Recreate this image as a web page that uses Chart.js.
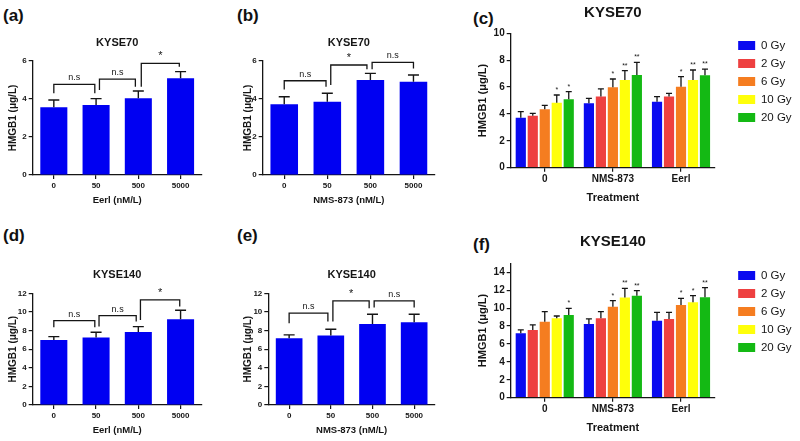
<!DOCTYPE html>
<html>
<head>
<meta charset="utf-8">
<script src="https://cdn.jsdelivr.net/npm/chart.js@4.4.0/dist/chart.umd.min.js"></script>
<style>
  html, body { margin: 0; padding: 0; background: #fff; }
  #fig { position: relative; width: 800px; height: 441px; overflow: hidden; font-family: 'Liberation Sans', Arial, sans-serif; }
  .panel { position: absolute; }
  .tag { position: absolute; font-weight: bold; font-size: 17px; line-height: 17px; color: #111; }
</style>
</head>
<body>
<div id="fig">
  <div class="tag" style="left:3px;top:7px">(a)</div>
  <div class="tag" style="left:237px;top:7px">(b)</div>
  <div class="tag" style="left:473px;top:10px">(c)</div>
  <div class="tag" style="left:3px;top:227px">(d)</div>
  <div class="tag" style="left:237px;top:227px">(e)</div>
  <div class="tag" style="left:473px;top:236px">(f)</div>

  <div class="panel" style="left:0;top:25px;width:215px;height:190px"><canvas id="chart-a"></canvas></div>
  <div class="panel" style="left:225px;top:25px;width:220px;height:190px"><canvas id="chart-b"></canvas></div>
  <div class="panel" style="left:460px;top:0;width:340px;height:215px"><canvas id="chart-c"></canvas></div>
  <div class="panel" style="left:0;top:255px;width:215px;height:190px"><canvas id="chart-d"></canvas></div>
  <div class="panel" style="left:225px;top:255px;width:220px;height:190px"><canvas id="chart-e"></canvas></div>
  <div class="panel" style="left:460px;top:225px;width:340px;height:215px"><canvas id="chart-f"></canvas></div>
</div>
<script>
'use strict';

// categories
const doses = ['0', '50', '500', '5000'];
const treatments = ['0', 'NMS-873', 'Eerl'];
const gyLabels = ['0 Gy', '2 Gy', '6 Gy', '10 Gy', '20 Gy'];

// (a) KYSE70 + Eerl
const k70Eerl = [3.56, 3.68, 4.04, 5.09];
const k70EerlErr = [0.39, 0.34, 0.38, 0.35];
// (b) KYSE70 + NMS-873
const k70Nms = [3.72, 3.86, 5.0, 4.91];
const k70NmsErr = [0.40, 0.44, 0.35, 0.35];
// (d) KYSE140 + Eerl
const k140Eerl = [6.99, 7.24, 7.85, 9.21];
const k140EerlErr = [0.36, 0.57, 0.57, 0.97];
// (e) KYSE140 + NMS-873
const k140Nms = [7.17, 7.46, 8.71, 8.89];
const k140NmsErr = [0.36, 0.68, 1.04, 0.86];

// (c) KYSE70, one array per dose, values by treatment
const k70Gy0 = [3.72, 4.79, 4.91];
const k70Gy2 = [3.87, 5.29, 5.29];
const k70Gy6 = [4.34, 5.98, 6.03];
const k70Gy10 = [4.84, 6.53, 6.53];
const k70Gy20 = [5.09, 6.90, 6.87];
const k70Gy0Err = [0.45, 0.37, 0.38];
const k70Gy2Err = [0.17, 0.57, 0.24];
const k70Gy6Err = [0.30, 0.62, 0.74];
const k70Gy10Err = [0.57, 0.69, 0.74];
const k70Gy20Err = [0.57, 0.94, 0.47];
const k70Stars = [['', '', ''], ['', '', ''], ['', '*', '*'], ['*', '**', '**'], ['*', '**', '**']];

// (f) KYSE140
const k140Gy0 = [7.19, 8.23, 8.60];
const k140Gy2 = [7.56, 8.86, 8.79];
const k140Gy6 = [8.49, 10.16, 10.35];
const k140Gy10 = [8.86, 11.17, 10.65];
const k140Gy20 = [9.23, 11.39, 11.21];
const k140Gy0Err = [0.37, 0.56, 0.93];
const k140Gy2Err = [0.56, 0.75, 0.74];
const k140Gy6Err = [1.12, 0.67, 0.74];
const k140Gy10Err = [0.26, 1.04, 0.74];
const k140Gy20Err = [0.75, 0.56, 1.08];
const k140Stars = [['', '', ''], ['', '', ''], ['', '*', '*'], ['', '**', '*'], ['*', '**', '**']];

// significance brackets: [from, to, line value, left end, right end, label]
const bracketsA = [[0, 0.97, 4.77, 4.3, 4.3, 'n.s'], [1.08, 1.93, 5.05, 4.47, 4.65, 'n.s'], [2.07, 2.97, 5.88, 4.65, 5.7, '*']];
const bracketsB = [[0, 0.97, 4.96, 4.5, 4.65, 'n.s'], [1.08, 1.92, 5.79, 4.74, 5.56, '*'], [2.04, 3, 5.93, 5.56, 5.61, 'n.s']];
const bracketsD = [[0, 0.97, 9.07, 8.35, 8.35, 'n.s'], [1.07, 1.95, 9.6, 8.42, 8.96, 'n.s'], [2.05, 2.98, 11.29, 9.14, 10.57, '*']];
const bracketsE = [[0, 0.93, 9.86, 8.78, 8.96, 'n.s'], [1.05, 1.92, 11.18, 8.96, 10.39, '*'], [2.04, 3, 11.18, 10.47, 10.47, 'n.s']];

const barBlue = '#0000f2';
const gyColors = ['#0a0af0', '#ee4040', '#f57d20', '#ffff0a', '#14b914'];
const ink = '#151515';
Chart.defaults.font.family = "'Liberation Sans', Arial, sans-serif";
Chart.defaults.color = ink;

const errorBars = {
  id: 'errorBars',
  afterDatasetsDraw(chart, args, opts) {
    const ctx = chart.ctx;
    const yScale = chart.scales.y;
    ctx.save();
    ctx.strokeStyle = ink;
    ctx.fillStyle = ink;
    ctx.lineWidth = opts.lineWidth;
    ctx.font = opts.starSize + 'px ' + Chart.defaults.font.family;
    ctx.textAlign = 'center';
    chart.data.datasets.forEach((ds, i) => {
      chart.getDatasetMeta(i).data.forEach((bar, j) => {
        const top = yScale.getPixelForValue(ds.data[j] + opts.errors[i][j]);
        ctx.beginPath();
        ctx.moveTo(bar.x, bar.y);
        ctx.lineTo(bar.x, top);
        ctx.moveTo(bar.x - opts.cap, top);
        ctx.lineTo(bar.x + opts.cap, top);
        ctx.stroke();
        const star = opts.stars ? opts.stars[i][j] : '';
        if (star) {
          ctx.fillText(star, bar.x, top - 3);
        }
      });
    });
    ctx.restore();
  },
};

const brackets = {
  id: 'brackets',
  afterDatasetsDraw(chart, args, opts) {
    if (!opts.items) {
      return;
    }
    const ctx = chart.ctx;
    const xs = chart.scales.x;
    const ys = chart.scales.y;
    ctx.save();
    ctx.strokeStyle = ink;
    ctx.fillStyle = ink;
    ctx.lineWidth = 1.3;
    ctx.textAlign = 'center';
    opts.items.forEach(([from, to, level, leftEnd, rightEnd, label]) => {
      const x1 = xs.getPixelForValue(from);
      const x2 = xs.getPixelForValue(to);
      const yy = ys.getPixelForValue(level);
      ctx.beginPath();
      ctx.moveTo(x1, ys.getPixelForValue(leftEnd));
      ctx.lineTo(x1, yy);
      ctx.lineTo(x2, yy);
      ctx.lineTo(x2, ys.getPixelForValue(rightEnd));
      ctx.stroke();
      ctx.font = (label === '*' ? '11px ' : '9px ') + Chart.defaults.font.family;
      ctx.fillText(label, (x1 + x2) / 2, yy - 4);
    });
    ctx.restore();
  },
};

// legend clips to its own box; give the labels a little more room
const roomyLegend = {
  id: 'roomyLegend',
  beforeInit(chart) {
    const fit = chart.legend.fit;
    chart.legend.fit = function () {
      fit.call(this);
      this.width += 10;
    };
  },
};

function axisOptions(cfg) {
  return {
    x: {
      grid: { offset: false, drawOnChartArea: false, tickLength: 4, color: ink, lineWidth: 1.2 },
      border: { color: ink, width: 1.3 },
      ticks: { font: { size: cfg.tickSize, weight: 'bold' }, padding: 2 },
      title: { display: true, text: cfg.xTitle, font: { size: cfg.xTitleSize, weight: 'bold' }, padding: { top: 0, bottom: cfg.xTitlePad } },
      afterFit: (s) => { s.height = cfg.xHeight; },
    },
    y: {
      min: 0,
      max: cfg.yMax,
      ticks: { stepSize: 2, includeBounds: false, font: { size: cfg.tickSize, weight: 'bold' }, padding: 2 },
      grid: { drawOnChartArea: false, tickLength: 4, color: ink, lineWidth: 1.2 },
      border: { color: ink, width: 1.3 },
      title: { display: true, text: 'HMGB1 (μg/L)', font: { size: cfg.yTitleSize, weight: 'bold' }, padding: { top: cfg.yTitlePad, bottom: 0 } },
      afterFit: (s) => { s.width = cfg.yWidth; },
    },
  };
}

function doseChart(id, cfg) {
  return new Chart(document.getElementById(id), {
    type: 'bar',
    data: {
      labels: doses,
      datasets: [{ data: cfg.values, backgroundColor: barBlue, barPercentage: 0.64, categoryPercentage: 1 }],
    },
    options: {
      responsive: true,
      maintainAspectRatio: false,
      animation: false,
      layout: { padding: { top: 0, left: 0, bottom: 0, right: cfg.padRight } },
      plugins: {
        legend: { display: false },
        tooltip: { enabled: false },
        title: {
          display: true, text: cfg.title, fullSize: false,
          font: { size: 11, weight: 'bold' },
          padding: { top: cfg.titleTop, bottom: cfg.titleBottom },
        },
        errorBars: { errors: [cfg.errors], cap: 5.5, lineWidth: 1.4, starSize: 8 },
        brackets: { items: cfg.brackets },
      },
      scales: axisOptions({
        tickSize: 8, xTitle: cfg.xTitle, xTitleSize: 9.5, xTitlePad: cfg.xTitlePad, xHeight: 40,
        yMax: cfg.yMax, yTitleSize: 10, yTitlePad: cfg.yTitlePad, yWidth: cfg.yWidth,
      }),
    },
    plugins: [errorBars, brackets],
  });
}

function radiationChart(id, cfg) {
  const datasets = cfg.series.map((data, i) => ({
    label: gyLabels[i],
    data,
    backgroundColor: gyColors[i],
    barPercentage: 0.85,
    categoryPercentage: 0.88,
    yAxisID: 'y',
  }));
  const scales = axisOptions({
    tickSize: 10, xTitle: 'Treatment', xTitleSize: 11, xTitlePad: cfg.xTitlePad, xHeight: cfg.xHeight,
    yMax: cfg.yMax, yTitleSize: 11, yTitlePad: 16.7, yWidth: 50.7,
  });
  // empty spacer between plot and legend
  scales.gap = {
    type: 'linear', position: 'right', display: true,
    grid: { display: false }, border: { display: false }, ticks: { display: false },
    afterFit: (s) => { s.width = 16.6; },
  };
  return new Chart(document.getElementById(id), {
    type: 'bar',
    data: { labels: treatments, datasets },
    options: {
      responsive: true,
      maintainAspectRatio: false,
      animation: false,
      layout: { padding: { top: 0, left: 0, bottom: 0, right: 2 } },
      plugins: {
        legend: {
          position: 'right', align: 'start', fullSize: false,
          labels: { boxWidth: 17, boxHeight: 9, padding: 6.5, font: { size: 11.5 }, color: ink },
        },
        tooltip: { enabled: false },
        title: {
          display: true, text: cfg.title, fullSize: false,
          font: { size: 15, weight: 'bold' },
          padding: { top: cfg.titleTop, bottom: cfg.titleBottom },
        },
        errorBars: { errors: cfg.errors, stars: cfg.stars, cap: 3, lineWidth: 1.3, starSize: 7 },
      },
      scales,
    },
    plugins: [errorBars, roomyLegend],
  });
}

doseChart('chart-a', {
  values: k70Eerl, errors: k70EerlErr, brackets: bracketsA, title: 'KYSE70', xTitle: 'Eerl (nM/L)',
  yMax: 6, yWidth: 32.7, padRight: 13.3, titleTop: 11.4, titleBottom: 11.4, xTitlePad: 9.3, yTitlePad: 7,
});
doseChart('chart-b', {
  values: k70Nms, errors: k70NmsErr, brackets: bracketsB, title: 'KYSE70', xTitle: 'NMS-873 (nM/L)',
  yMax: 6, yWidth: 37.7, padRight: 10, titleTop: 11.4, titleBottom: 11.4, xTitlePad: 9.3, yTitlePad: 17.5,
});
doseChart('chart-d', {
  values: k140Eerl, errors: k140EerlErr, brackets: bracketsD, title: 'KYSE140', xTitle: 'Eerl (nM/L)',
  yMax: 12, yWidth: 32.7, padRight: 13.3, titleTop: 13.4, titleBottom: 11.7, xTitlePad: 8.6, yTitlePad: 7,
});
doseChart('chart-e', {
  values: k140Nms, errors: k140NmsErr, brackets: bracketsE, title: 'KYSE140', xTitle: 'NMS-873 (nM/L)',
  yMax: 12, yWidth: 43.3, padRight: 10, titleTop: 13.4, titleBottom: 11.7, xTitlePad: 8.6, yTitlePad: 17.5,
});
radiationChart('chart-c', {
  title: 'KYSE70', yMax: 10, titleTop: 4.3, titleBottom: 11, xHeight: 47.3, xTitlePad: 10.7,
  series: [k70Gy0, k70Gy2, k70Gy6, k70Gy10, k70Gy20],
  errors: [k70Gy0Err, k70Gy2Err, k70Gy6Err, k70Gy10Err, k70Gy20Err],
  stars: k70Stars,
});
radiationChart('chart-f', {
  title: 'KYSE140', yMax: 15, titleTop: 7.7, titleBottom: 12.6, xHeight: 42.3, xTitlePad: 5.1,
  series: [k140Gy0, k140Gy2, k140Gy6, k140Gy10, k140Gy20],
  errors: [k140Gy0Err, k140Gy2Err, k140Gy6Err, k140Gy10Err, k140Gy20Err],
  stars: k140Stars,
});
</script>
</body>
</html>
